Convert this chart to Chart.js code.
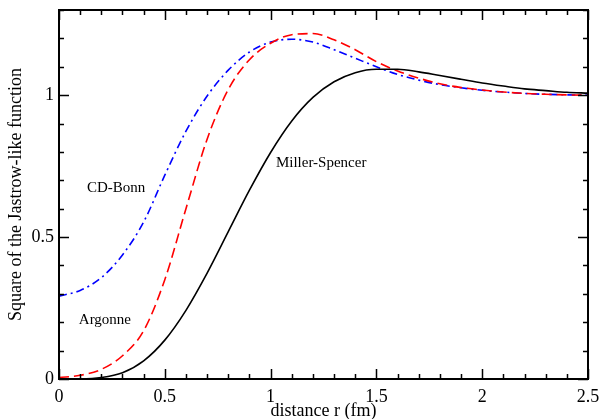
<!DOCTYPE html>
<html>
<head>
<meta charset="utf-8">
<script src="https://cdn.jsdelivr.net/npm/chart.js@4"></script>
<style>
  html, body { margin: 0; padding: 0; background: #fff; }
</style>
</head>
<body>
<canvas id="jastrowChart" width="600" height="419"></canvas>
<script>
// distance r (fm)
var distance = [0, 0.1, 0.2, 0.3, 0.4, 0.5, 0.6, 0.7, 0.8, 0.9, 1.0, 1.1, 1.2,
                1.3, 1.4, 1.5, 1.6, 1.7, 1.8, 1.9, 2.0, 2.1, 2.2, 2.3, 2.4, 2.5];
var millerSpencer = [0, 0.0003, 0.005, 0.022, 0.064, 0.137, 0.242, 0.373, 0.519, 0.665, 0.798, 0.909, 0.992,
                     1.047, 1.079, 1.091, 1.091, 1.082, 1.069, 1.056, 1.043, 1.032, 1.022, 1.016, 1.010, 1.007];
var argonne = [0.005, 0.013, 0.034, 0.082, 0.17, 0.35, 0.60, 0.845, 1.02, 1.125, 1.183, 1.213, 1.217,
               1.195, 1.16, 1.118, 1.085, 1.06, 1.04, 1.027, 1.018, 1.011, 1.006, 1.003, 1.001, 1.0];
var cdBonn = [0.292, 0.312, 0.357, 0.437, 0.553, 0.718, 0.873, 0.997, 1.088, 1.152, 1.187, 1.197, 1.187,
              1.16, 1.13, 1.10, 1.073, 1.053, 1.037, 1.026, 1.017, 1.011, 1.006, 1.003, 1.001, 1.0];

var xTickLabels = ['0', '0.5', '1', '1.5', '2', '2.5'];
var yTickLabels = ['0', '0.5', '1'];

var serif = 'Liberation Serif';

function points(values) {
    return values.map(function (v, i) { return { x: distance[i], y: v }; });
}

// curve names written inside the plot, placed in data units
var curveNotes = [
    { text: 'CD-Bonn', x: 0.27, y: 0.673, align: 'center' },
    { text: 'Argonne', x: 0.217, y: 0.208, align: 'center' },
    { text: 'Miller-Spencer', x: 1.025, y: 0.76, align: 'left' }
];

// inward ticks on all four sides, the frame, and the curve names
var framePlugin = {
    id: 'frame',
    afterDatasetsDraw: function (chart) {
        var ctx = chart.ctx, a = chart.chartArea;
        var x = chart.scales.x, y = chart.scales.y;
        ctx.save();
        ctx.strokeStyle = '#000';
        ctx.lineWidth = 1.5;
        ctx.beginPath();
        for (var i = 0; i <= 25; i++) {
            var px = Math.round(x.getPixelForValue(i / 10)) + 0.5;
            var len = (i % 5 === 0) ? 10 : 5;
            ctx.moveTo(px, a.bottom); ctx.lineTo(px, a.bottom - len);
            ctx.moveTo(px, a.top); ctx.lineTo(px, a.top + len);
        }
        for (var j = 0; j <= 13; j++) {
            var py = Math.round(y.getPixelForValue(j / 10)) + 0.5;
            var ylen = (j % 5 === 0) ? 10 : 5;
            ctx.moveTo(a.left, py); ctx.lineTo(a.left + ylen, py);
            ctx.moveTo(a.right, py); ctx.lineTo(a.right - ylen, py);
        }
        ctx.stroke();
        ctx.lineWidth = 2;
        ctx.strokeRect(a.left, a.top, a.right - a.left, a.bottom - a.top);

        ctx.fillStyle = '#000';
        ctx.font = '15px "' + serif + '"';
        ctx.textBaseline = 'middle';
        curveNotes.forEach(function (n) {
            ctx.textAlign = n.align;
            ctx.fillText(n.text, x.getPixelForValue(n.x), y.getPixelForValue(n.y));
        });
        ctx.restore();
    }
};

var ctx = document.getElementById('jastrowChart').getContext('2d');
var jastrowChart = new Chart(ctx, {
    type: 'line',
    data: {
        datasets: [{
            label: 'Miller-Spencer',
            data: points(millerSpencer),
            borderColor: '#000000',
            borderWidth: 1.6,
            pointRadius: 0,
            cubicInterpolationMode: 'monotone'
        }, {
            label: 'Argonne',
            data: points(argonne),
            borderColor: '#ff0000',
            borderWidth: 1.6,
            borderDash: [10, 5],
            pointRadius: 0,
            cubicInterpolationMode: 'monotone'
        }, {
            label: 'CD-Bonn',
            data: points(cdBonn),
            borderColor: '#0000ff',
            borderWidth: 1.6,
            borderDash: [8, 4, 2, 4],
            pointRadius: 0,
            cubicInterpolationMode: 'monotone'
        }]
    },
    options: {
        responsive: false,
        animation: false,
        events: [],
        layout: { padding: { top: 10, right: 12, left: 0, bottom: 0 } },
        plugins: {
            legend: { display: false },
            tooltip: { enabled: false }
        },
        scales: {
            x: {
                type: 'linear',
                min: 0,
                max: 2.5,
                grid: { display: false, drawTicks: false },
                border: { display: false },
                afterFit: function (scale) {
                    scale.height = 40;
                    scale.paddingLeft = 0;
                    scale.paddingRight = 0;
                },
                afterBuildTicks: function (scale) {
                    scale.ticks = xTickLabels.map(function (s) { return { value: parseFloat(s) }; });
                },
                ticks: {
                    color: '#000',
                    padding: 7,
                    maxRotation: 0,
                    font: { family: serif, size: 18 },
                    callback: function (value, index) { return xTickLabels[index]; }
                },
                title: {
                    display: true,
                    text: 'distance r (fm)',
                    color: '#000',
                    padding: { top: 0, bottom: -3 },
                    font: { family: serif, size: 18 }
                }
            },
            y: {
                min: 0,
                max: 1.3,
                grid: { display: false, drawTicks: false },
                border: { display: false },
                afterFit: function (scale) {
                    scale.width = 59;
                    scale.paddingTop = 0;
                    scale.paddingBottom = 0;
                },
                afterBuildTicks: function (scale) {
                    scale.ticks = yTickLabels.map(function (s) { return { value: parseFloat(s) }; });
                },
                ticks: {
                    color: '#000',
                    padding: 5,
                    font: { family: serif, size: 18 },
                    callback: function (value, index) { return yTickLabels[index]; }
                },
                title: {
                    display: true,
                    text: 'Square of the Jastrow-like function',
                    color: '#000',
                    padding: { top: 5, bottom: 0 },
                    font: { family: serif, size: 18 }
                }
            }
        }
    },
    plugins: [framePlugin]
});
</script>
</body>
</html>
